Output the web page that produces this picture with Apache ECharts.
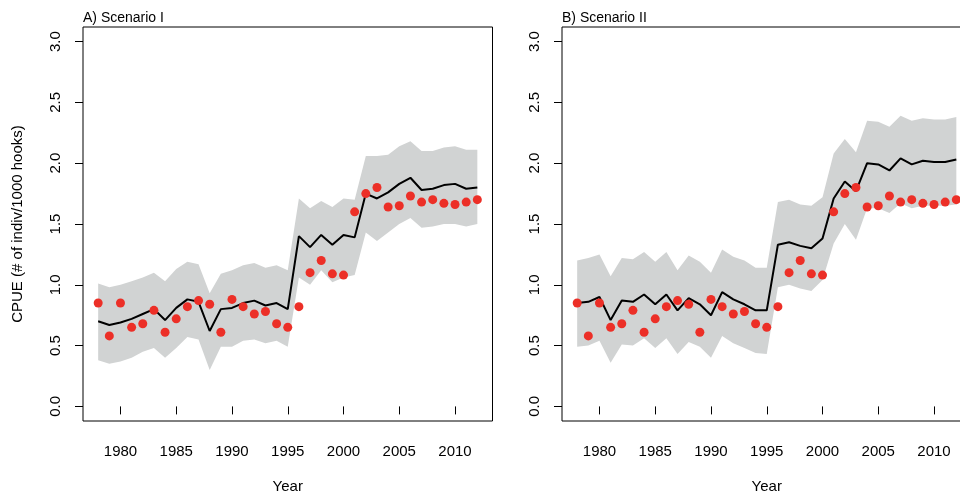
<!DOCTYPE html>
<html>
<head>
<meta charset="utf-8">
<script src="https://cdn.jsdelivr.net/npm/echarts@6/dist/echarts.min.js"></script>
<style>html,body{margin:0;padding:0;background:#fff}#c{width:960px;height:496px}</style>
</head>
<body>
<div id="c"></div>
<script>
var years = [1978,1979,1980,1981,1982,1983,1984,1985,1986,1987,1988,1989,1990,1991,1992,1993,1994,1995,1996,1997,1998,1999,2000,2001,2002,2003,2004,2005,2006,2007,2008,2009,2010,2011,2012];
var observed = [0.85,0.58,0.85,0.65,0.68,0.79,0.61,0.72,0.82,0.87,0.84,0.61,0.88,0.82,0.76,0.78,0.68,0.65,0.82,1.10,1.20,1.09,1.08,1.60,1.75,1.80,1.64,1.65,1.73,1.68,1.70,1.67,1.66,1.68,1.70];
var predA = [0.70,0.67,0.69,0.72,0.76,0.80,0.71,0.81,0.88,0.86,0.62,0.80,0.81,0.85,0.87,0.83,0.85,0.80,1.40,1.31,1.41,1.33,1.41,1.39,1.75,1.71,1.76,1.83,1.88,1.78,1.79,1.82,1.83,1.79,1.80];
var upperA = [1.01,0.98,1.00,1.03,1.06,1.10,1.03,1.13,1.19,1.17,0.93,1.09,1.12,1.16,1.18,1.14,1.16,1.12,1.71,1.63,1.69,1.64,1.71,1.70,2.06,2.06,2.07,2.14,2.18,2.10,2.10,2.13,2.14,2.11,2.11];
var lowerA = [0.38,0.35,0.37,0.40,0.45,0.48,0.40,0.48,0.57,0.55,0.30,0.49,0.49,0.54,0.55,0.52,0.54,0.49,1.06,1.00,1.12,1.02,1.06,1.08,1.43,1.36,1.43,1.50,1.55,1.47,1.48,1.50,1.50,1.48,1.50];
var predB = [0.85,0.86,0.90,0.71,0.87,0.86,0.92,0.84,0.92,0.79,0.89,0.84,0.75,0.94,0.88,0.84,0.79,0.79,1.33,1.35,1.32,1.30,1.38,1.71,1.85,1.77,2.00,1.99,1.94,2.04,1.99,2.02,2.01,2.01,2.03];
var upperB = [1.20,1.22,1.25,1.07,1.22,1.21,1.27,1.19,1.27,1.12,1.24,1.19,1.10,1.29,1.23,1.20,1.14,1.14,1.68,1.70,1.66,1.65,1.72,2.08,2.20,2.09,2.35,2.34,2.30,2.39,2.35,2.37,2.36,2.36,2.38];
var lowerB = [0.49,0.50,0.54,0.36,0.51,0.50,0.56,0.48,0.56,0.43,0.53,0.49,0.40,0.58,0.52,0.48,0.44,0.43,0.98,1.00,0.97,0.95,1.04,1.34,1.50,1.37,1.63,1.63,1.59,1.67,1.63,1.65,1.65,1.65,1.66];
var xTicks = [1980,1985,1990,1995,2000,2005,2010];
var yTicks = [0.0,0.5,1.0,1.5,2.0,2.5,3.0];
var panelTitles = ['A) Scenario I','B) Scenario II'];
var xTitle = 'Year';
var yTitle = 'CPUE (# of indiv/1000 hooks)';

var FONT = '"Liberation Sans", Arial, Helvetica, sans-serif';
var chart = echarts.init(document.getElementById('c'), null, {renderer:'canvas'});

function pairs(v){ return years.map(function(y,i){ return [y, v[i]]; }); }
function bandSeries(idx, up, lo){
  return {
    type:'custom', xAxisIndex:idx, yAxisIndex:idx, silent:true, z:1,
    data:[[years[0], lo[0]]],
    renderItem:function(params, api){
      var pts = [];
      for (var i=0;i<years.length;i++) pts.push(api.coord([years[i], up[i]]));
      for (var j=years.length-1;j>=0;j--) pts.push(api.coord([years[j], lo[j]]));
      return {type:'polygon', shape:{points:pts}, style:{fill:'#d1d3d3', stroke:null}};
    }
  };
}
function xAxis(idx){
  return {
    type:'value', gridIndex:idx, min:1976.64, max:2013.36,
    name:xTitle, nameLocation:'middle', nameGap:58,
    nameTextStyle:{color:'#000', fontSize:15, fontFamily:FONT},
    axisLine:{show:false}, splitLine:{show:false},
    axisTick:{show:true, inside:false, length:8, customValues:xTicks, lineStyle:{color:'#000', width:1}},
    axisLabel:{show:true, customValues:xTicks, color:'#000', fontSize:15, fontFamily:FONT, margin:23,
      formatter:function(v){ return String(v); }}
  };
}
function yAxis(idx){
  return {
    type:'value', gridIndex:idx, min:-0.12, max:3.12,
    name: idx===0 ? yTitle : '', nameLocation:'middle', nameGap:58, nameRotate:90,
    nameTextStyle:{color:'#000', fontSize:15, fontFamily:FONT},
    axisLine:{show:false}, splitLine:{show:false},
    axisTick:{show:true, inside:false, length:8, customValues:yTicks, lineStyle:{color:'#000', width:1}},
    axisLabel:{show:true, customValues:yTicks, rotate:90, color:'#000', fontSize:15, fontFamily:FONT, margin:20,
      formatter:function(v){ return v.toFixed(1); }}
  };
}

chart.setOption({
  animation:false,
  backgroundColor:'#fff',
  title:[
    {text:panelTitles[0], left:78, top:6, textStyle:{color:'#000', fontSize:14, fontWeight:'normal', fontFamily:FONT}},
    {text:panelTitles[1], left:557, top:6, textStyle:{color:'#000', fontSize:14, fontWeight:'normal', fontFamily:FONT}}
  ],
  grid:[
    {left:83, top:27, width:409.5, height:394, show:true, borderColor:'#000', borderWidth:1, backgroundColor:'transparent', z:5, containLabel:false, outerBoundsMode:'none'},
    {left:562, top:27, width:409.5, height:394, show:true, borderColor:'#000', borderWidth:1, backgroundColor:'transparent', z:5, containLabel:false, outerBoundsMode:'none'}
  ],
  xAxis:[xAxis(0), xAxis(1)],
  yAxis:[yAxis(0), yAxis(1)],
  series:[
    bandSeries(0, upperA, lowerA),
    {type:'line', xAxisIndex:0, yAxisIndex:0, data:pairs(predA), symbol:'none', z:2,
      lineStyle:{color:'#000', width:2}},
    {type:'scatter', xAxisIndex:0, yAxisIndex:0, data:pairs(observed), symbolSize:9, z:3,
      itemStyle:{color:'#ec2f27', opacity:1}},
    bandSeries(1, upperB, lowerB),
    {type:'line', xAxisIndex:1, yAxisIndex:1, data:pairs(predB), symbol:'none', z:2,
      lineStyle:{color:'#000', width:2}},
    {type:'scatter', xAxisIndex:1, yAxisIndex:1, data:pairs(observed), symbolSize:9, z:3,
      itemStyle:{color:'#ec2f27', opacity:1}}
  ]
});
</script>
</body>
</html>
